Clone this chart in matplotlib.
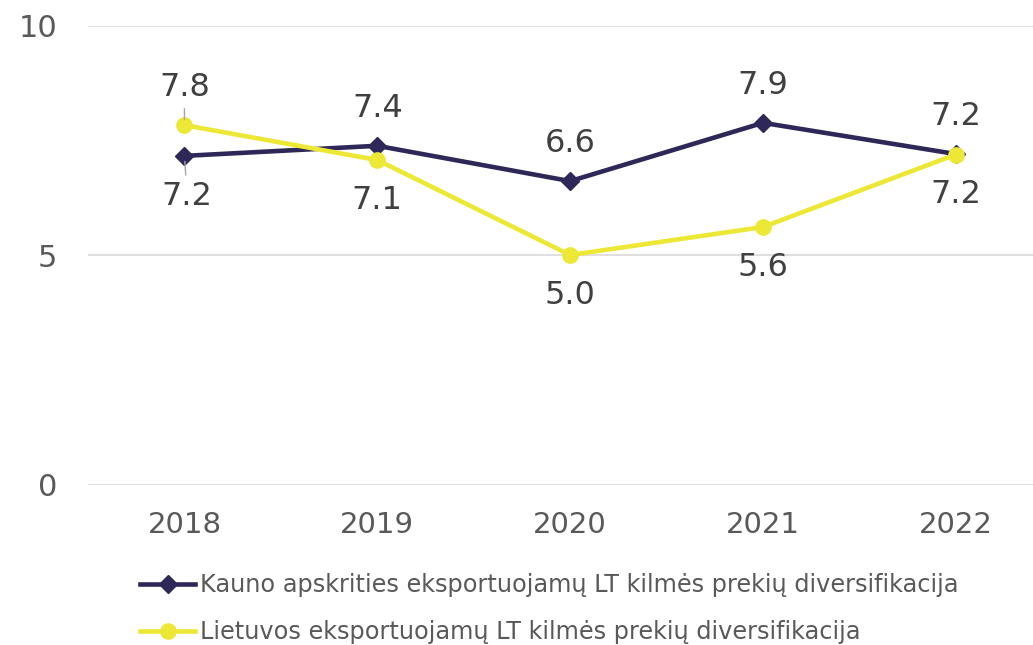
import matplotlib.pyplot as plt

plt.rcParams['font.family'] = ['DejaVu Sans']

# duomenys
metai = ['2018', '2019', '2020', '2021', '2022']
kaunas = [7.17, 7.39, 6.62, 7.89, 7.21]
lietuva = [7.84, 7.08, 5.01, 5.62, 7.20]
kaunas_pav = 'Kauno apskrities eksportuojamų LT kilmės prekių diversifikacija'
lietuva_pav = 'Lietuvos eksportuojamų LT kilmės prekių diversifikacija'

# etikečių padėtis: 1 - virš, -1 - po tašku
kaunas_kryptis = [-1, 1, 1, 1, 1]
lietuva_kryptis = [1, -1, -1, -1, -1]

tamsi = '#2d2858'
geltona = '#ece835'

fig = plt.figure(figsize=(10.33, 6.45), dpi=100)
ax = fig.add_axes([0.0852, 0.2481, 0.9148, 0.7116])

x = list(range(len(metai)))
ax.plot(x, kaunas, color=tamsi, lw=3.3, marker='D', ms=9, label=kaunas_pav, zorder=3)
ax.plot(x, lietuva, color=geltona, lw=3.3, marker='o', ms=11, label=lietuva_pav, zorder=4)

for i in x:
    for vals, kr in ((kaunas, kaunas_kryptis), (lietuva, lietuva_kryptis)):
        dy = 27 if kr[i] > 0 else -29
        arrow = None
        if i == 0:
            arrow = dict(arrowstyle='-', color='#a6a6a6', lw=1, shrinkA=2, shrinkB=4)
        ax.annotate(f'{vals[i]:.1f}', xy=(i, vals[i]), xytext=(2 if (i == 0 and kr[i] < 0) else 0, dy),
                    textcoords='offset points', ha='center', va='center',
                    fontsize=23, color='#404040', arrowprops=arrow, zorder=5)

ax.set_xlim(-0.5, 4.4)
ax.set_ylim(0, 10)
ax.set_yticks([0, 5, 10])
ax.set_xticks(x)
ax.set_xticklabels(metai)
ax.grid(axis='y', color='#d9d9d9', lw=1.2)
ax.set_axisbelow(True)
for s in ax.spines.values():
    s.set_visible(False)
ax.tick_params(length=0, labelsize=21, labelcolor='#595959')
ax.tick_params(axis='y', pad=22, labelsize=22)
ax.tick_params(axis='x', pad=19)

fig.legend(loc='upper left', bbox_to_anchor=(0.1355, 0.111), frameon=False,
           fontsize=17.3, labelcolor='#595959', handlelength=2.3, handletextpad=0.2,
           labelspacing=0.95, borderaxespad=0, borderpad=0)

fig.savefig('out.png', dpi=100)
